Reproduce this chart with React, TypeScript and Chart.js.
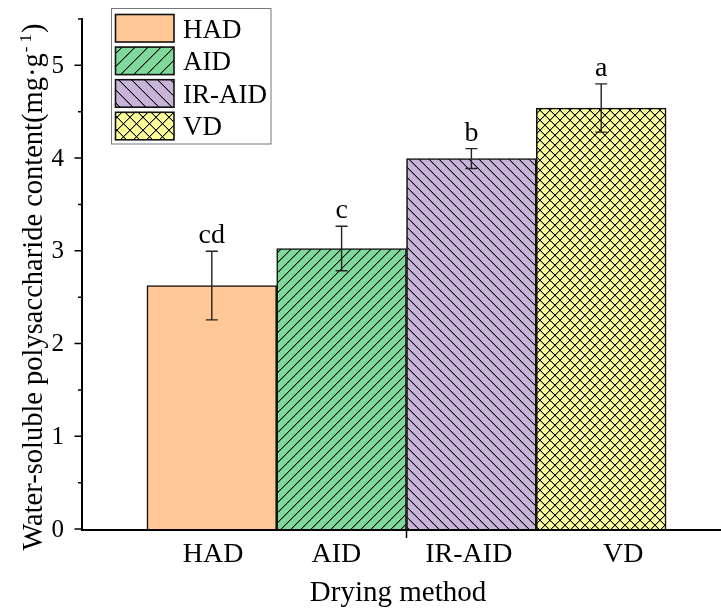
import React, { useEffect, useRef } from "react";
import { Chart, registerables } from "chart.js";

Chart.register(...registerables);

// ---- data ----
const categories = ["HAD", "AID", "IR-AID", "VD"];
const values = [2.625, 3.025, 3.995, 4.54];
const errors = [0.37, 0.24, 0.107, 0.26];
const letters = ["cd", "c", "b", "a"];
const fillColors = ["#FFC896", "#7ED99B", "#C8B4D9", "#FFFF99"];
const hatches = ["none", "slash", "backslash", "cross"];
const yMajorTicks = [0, 1, 2, 3, 4, 5];
const yMinorTicks = [0.5, 1.5, 2.5, 3.5, 4.5, 5.5];
const xTicks = [2.5];
const categoryLabelAt = [1.01, 1.96, 2.98, 4.17];
const xTitle = "Drying method";
const yTitleMain = "Water-soluble polysaccharide content(mg·g";
const yTitleSup = "- 1";
const yTitleEnd = ")";

const SERIF = "'Liberation Serif', 'Times New Roman', serif";

function makePattern(color: string, kind: string, s: number): CanvasPattern | string {
  if (kind === "none") return color;
  const c = document.createElement("canvas");
  c.width = s;
  c.height = s;
  const g = c.getContext("2d")!;
  g.fillStyle = color;
  g.fillRect(0, 0, s, s);
  const slash = () => {
    for (let i = 0; i < s; i++) {
      const y = s - 1 - i;
      g.fillStyle = "rgba(0,0,0,0.95)";
      g.fillRect(i, y, 1, 1);
      g.fillStyle = "rgba(0,0,0,0.35)";
      g.fillRect(i, (y + 1) % s, 1, 1);
    }
  };
  const back = () => {
    for (let i = 0; i < s; i++) {
      const y = i;
      g.fillStyle = "rgba(0,0,0,0.95)";
      g.fillRect(i, y, 1, 1);
      g.fillStyle = "rgba(0,0,0,0.35)";
      g.fillRect(i, (y + 1) % s, 1, 1);
    }
  };
  if (kind === "slash") slash();
  if (kind === "backslash") back();
  if (kind === "cross") {
    slash();
    back();
  }
  return g.createPattern(c, "repeat")!;
}

const overlayPlugin = {
  id: "overlay",
  afterDatasetsDraw(chart: any) {
    const ctx = chart.ctx;
    const xs = chart.scales.x;
    const ys = chart.scales.y;
    ctx.save();
    // error bars
    ctx.strokeStyle = "#222";
    ctx.lineWidth = 1.4;
    values.forEach((v, i) => {
      const x = xs.getPixelForValue(i + 1);
      const yt = ys.getPixelForValue(v + errors[i]);
      const yb = ys.getPixelForValue(v - errors[i]);
      ctx.beginPath();
      ctx.moveTo(x, yt);
      ctx.lineTo(x, yb);
      ctx.moveTo(x - 6, yt);
      ctx.lineTo(x + 6, yt);
      ctx.moveTo(x - 6, yb);
      ctx.lineTo(x + 6, yb);
      ctx.stroke();
      ctx.fillStyle = "#000";
      ctx.font = `28px ${SERIF}`;
      ctx.textAlign = "center";
      ctx.textBaseline = "alphabetic";
      ctx.fillText(letters[i], x, yt - 8);
    });
    ctx.restore();
  },
  afterDraw(chart: any) {
    const ctx = chart.ctx;
    const xs = chart.scales.x;
    const ys = chart.scales.y;
    const area = chart.chartArea;
    ctx.save();
    // axes
    ctx.strokeStyle = "#000";
    ctx.lineWidth = 2;
    const y0 = ys.getPixelForValue(0);
    ctx.beginPath();
    ctx.moveTo(area.left, ys.getPixelForValue(5.5) - 1);
    ctx.lineTo(area.left, y0 + 1);
    ctx.lineTo(area.right, y0 + 1);
    ctx.stroke();
    // ticks
    ctx.lineWidth = 1.5;
    ctx.beginPath();
    yMajorTicks.forEach((t) => {
      const y = ys.getPixelForValue(t);
      ctx.moveTo(area.left - 7.5, y);
      ctx.lineTo(area.left, y);
    });
    yMinorTicks.forEach((t) => {
      const y = ys.getPixelForValue(t);
      ctx.moveTo(area.left - 4, y);
      ctx.lineTo(area.left, y);
    });
    xTicks.forEach((t) => {
      const x = xs.getPixelForValue(t);
      ctx.moveTo(x, y0);
      ctx.lineTo(x, y0 + 9);
    });
    ctx.stroke();
    // y tick labels
    ctx.fillStyle = "#000";
    ctx.font = `25px ${SERIF}`;
    ctx.textAlign = "right";
    ctx.textBaseline = "middle";
    yMajorTicks.forEach((t) => {
      ctx.fillText(String(t), area.left - 18, ys.getPixelForValue(t) + 1);
    });
    // category labels
    ctx.font = `28px ${SERIF}`;
    ctx.textAlign = "center";
    ctx.textBaseline = "alphabetic";
    categories.forEach((c, i) => {
      ctx.fillText(c, xs.getPixelForValue(categoryLabelAt[i]), y0 + 33);
    });
    // x title
    ctx.font = `29px ${SERIF}`;
    ctx.fillText(xTitle, 398, y0 + 72);
    // y title (rotated)
    ctx.save();
    ctx.translate(41.5, 287);
    ctx.rotate(-Math.PI / 2);
    ctx.textAlign = "left";
    ctx.font = `28.5px ${SERIF}`;
    const w1 = ctx.measureText(yTitleMain).width;
    const w3 = ctx.measureText(yTitleEnd).width;
    ctx.font = `17px ${SERIF}`;
    const w2 = ctx.measureText(yTitleSup).width;
    const start = -(w1 + w2 + w3 + 2) / 2;
    ctx.font = `28.5px ${SERIF}`;
    ctx.fillText(yTitleMain, start, 0);
    ctx.font = `17px ${SERIF}`;
    ctx.fillText(yTitleSup, start + w1 + 1, -11);
    ctx.font = `28.5px ${SERIF}`;
    ctx.fillText(yTitleEnd, start + w1 + w2 + 2, 0);
    ctx.restore();
    // legend
    ctx.strokeStyle = "#777";
    ctx.lineWidth = 1;
    ctx.strokeRect(111.5, 8.5, 159.5, 135.5);
    categories.forEach((c, i) => {
      const top = 14 + i * 32.6;
      const pat = makePattern(fillColors[i], hatches[i], 13);
      ctx.fillStyle = pat;
      ctx.fillRect(115, top, 59, 28);
      ctx.strokeStyle = "#111";
      ctx.lineWidth = 1.6;
      ctx.strokeRect(115.5, top + 0.5, 58.5, 27.5);
      ctx.fillStyle = "#000";
      ctx.font = `27px ${SERIF}`;
      ctx.textAlign = "left";
      ctx.textBaseline = "alphabetic";
      ctx.fillText(c, 183, top + 23.5);
    });
    ctx.restore();
  },
};

export default function App() {
  const ref = useRef<HTMLCanvasElement | null>(null);
  useEffect(() => {
    if (!ref.current) return;
    const patterns = fillColors.map((c, i) => makePattern(c, hatches[i], 10));
    const chart = new Chart(ref.current, {
      type: "bar",
      data: {
        datasets: [
          {
            data: categories.map((_, i) => ({ x: i + 1, y: values[i] })) as any,
            backgroundColor: patterns as any,
            borderColor: "#111",
            borderWidth: 1.6,
            categoryPercentage: 1,
            barPercentage: 1,
          } as any,
        ],
      },
      options: {
        animation: false,
        responsive: false,
        events: [],
        layout: { padding: { left: 82, right: 0, top: 19, bottom: 85 } },
        scales: {
          x: { type: "linear", min: 0, max: 5, display: false, offset: false, ticks: { stepSize: 1 } } as any,
          y: { min: 0, max: 5.5, display: false, ticks: { stepSize: 0.5 } },
        },
        plugins: { legend: { display: false }, tooltip: { enabled: false } },
      },
      plugins: [overlayPlugin],
    });
    return () => chart.destroy();
  }, []);
  return (
    <div style={{ position: "fixed", left: 0, top: 0, width: 721, height: 614, overflow: "hidden", background: "#fff" }}>
      <canvas ref={ref} width={731} height={614} style={{ display: "block", width: 731, height: 614 }} />
    </div>
  );
}
